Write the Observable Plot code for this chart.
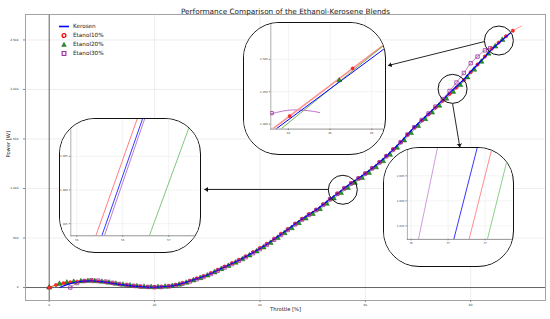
<!DOCTYPE html>
<html><head><meta charset="utf-8">
<script src="https://cdn.jsdelivr.net/npm/d3@7"></script>
<script src="https://cdn.jsdelivr.net/npm/@observablehq/plot@0.6"></script>
<style>
body{margin:0;background:#fff;font-family:"DejaVu Sans",sans-serif;}
#wrap{position:relative;width:550px;height:319px;overflow:hidden;background:#fff;}
#wrap>svg{display:block;}
.inset{position:absolute;box-sizing:border-box;border:1.4px solid #111;border-radius:36px;overflow:hidden;background:#fff;}
.inset svg{display:block;}
.leg{position:absolute;left:58px;height:9px;display:flex;align-items:center;font-size:5.7px;color:#222;white-space:nowrap;}
.leg svg{width:12px;height:9px;margin-right:3px;}
</style></head><body><div id="wrap"></div><script>
// ---- main series (Throttle [%] -> Power [W]) ----
const keroX = [2.0,3.0,4.0,5.3,6.7,8.0,9.3,10.7,12.0,13.3,14.7,16.0,17.3,18.7,20.0,21.3,22.7,24.0,25.3,26.7,28.0,29.3,30.7,32.0,33.3,34.7,36.0,37.3,38.7,40.0,41.3,42.7,44.0,45.3,46.7,48.0,49.3,50.7,52.0,53.3,54.7,56.0,57.3,58.7,60.0,61.3,62.7,64.0,65.3,66.7,68.0,69.3,70.7,72.0,73.3,74.7,76.0,77.3,78.7,80.0,81.3,82.7,84.0,85.3,86.7,87.5];
const keroY = [0,22,40,56,65,67,61,54,43,32,24,15,9,5,3,6,13,25,42,66,89,112,142,175,208,242,275,312,353,395,437,489,538,587,643,691,738,785,838,893,948,1002,1052,1103,1152,1205,1265,1328,1395,1468,1545,1618,1690,1755,1822,1893,1965,2030,2102,2180,2252,2330,2405,2467,2532,2568];

const e10X = [0,1.3,2.7,4.0,5.3,6.7,8.0,9.3,10.7,12.0,13.3,14.7,16.0,17.3,18.7,20.0,21.3,22.7,24.0,25.3,26.7,28.0,29.3,30.7,32.0,33.3,34.7,36.0,37.3,38.7,40.0,41.3,42.7,44.0,45.3,46.7,48.0,49.3,50.7,52.0,53.3,54.7,56.0,57.3,58.7,60.0,61.3,62.7,64.0,65.3,66.7,68.0,69.3,70.7,72.0,73.3,74.7,76.0,77.3,78.7,80.0,81.3,82.7,84.0,85.3,86.7,88.0];
const e10Y = [0,26,44,53,60,66,68,62,55,44,34,25,17,11,7,6,9,17,29,46,70,93,117,147,180,213,247,280,317,358,400,442,494,543,592,647,695,742,789,842,897,951,1005,1055,1106,1155,1208,1268,1330,1396,1468,1544,1616,1686,1749,1816,1885,1955,2020,2094,2175,2252,2333,2411,2473,2537,2593];
const e10TailX = [88.0,89.6];
const e10TailY = [2593,2640];

const e20X = [0,1.95,3.35,4.65,6.0,7.35,8.65,10.0,11.35,12.65,14.0,15.35,16.65,18.0,19.35,20.65,22.0,23.35,24.65,26.0,27.35,28.65,30.0,31.35,32.65,34.0,35.35,36.65,38.0,39.35,40.65,42.0,43.35,44.65,46.0,47.35,48.65,50.0,51.35,52.65,54.0,55.35,56.65,58.0,59.35,60.65,62.0,63.35,64.65,66.0,67.35,68.65,70.0,71.35,72.65,74.0,75.35,76.65,78.0,79.35,80.65,82.0,83.35,84.65,86.0];
const e20Y = [0,37,49,56,62,66,64,58,49,38,28,20,12,7,4,4,8,15,29,48,72,95,121,153,186,218,251,285,324,364,405,451,501,549,599,650,697,743,792,846,900,954,1006,1057,1107,1158,1214,1276,1341,1411,1485,1560,1632,1701,1767,1836,1907,1976,2045,2122,2200,2280,2362,2434,2500];

const e30X = [4.0,5.3,6.7,8.0,9.3,10.7,12.0,13.3,14.7,16.0,17.3,18.7,20.0,21.3,22.7,24.0,25.3,26.7,28.0,29.3,30.7,32.0,33.3,34.7,36.0,37.3,38.7,40.0,41.3,42.7,44.0,45.3,46.7,48.0,49.3,50.7,52.0,53.3,54.7,56.0,57.3,58.7,60.0,61.3,62.7,64.0,65.3,66.7,68.0,69.3,70.7,72.0,73.3,74.7,76.0,77.3,78.7,80.0,81.3,82.7,83.7];
const e30Y = [0,45,66,74,70,60,48,36,26,17,10,6,3,5,11,22,38,60,83,106,136,169,202,236,269,306,346,388,430,482,531,581,637,686,733,781,834,890,946,1000,1050,1101,1150,1203,1263,1326,1393,1467,1545,1619,1692,1758,1827,1903,1985,2070,2167,2265,2332,2395,2417];

const xTicks = [0,20,40,60,80];
const yTicks = [0,500,1000,1500,2000,2500];

// zoom annotations (data coordinates)
const zoomCx = [85.35,76.56,55.73];
const zoomCy = [2494,2006,987];
const arrowX1 = [82.63,76.56,53.02];
const arrowY1 = [2484,1858,990];
const arrowX2 = [64.35,77.94,29.48];
const arrowY2 = [2242,1417,990];

// ---- inset 1 (around throttle 56 %) ----
const in1XTicks = [55.5,56.0,56.5];
const in1YTicks = [995,1000,1005];
const in1RedX = [55.707,56.159], in1RedY = [993.2,1010.65];
const in1BlueX = [55.772,56.217], in1BlueY = [993.2,1010.65];
const in1PurX = [55.80,56.24], in1PurY = [993.2,1010.65];
const in1GrnX = [56.289,56.758], in1GrnY = [993.2,1010.7];

// ---- inset 2 (around throttle 85 %) ----
const in2XTicks = [84,85,86];
const in2YTicks = [2400,2450,2500];
const in2BlueX = [83.5,86.4], in2BlueY = [2382.9,2521.2];
const in2RedX = [83.5,86.4], in2RedY = [2386.7,2527.9];
const in2GrnX = [83.5,86.4], in2GrnY = [2375.8,2527.5];
const in2PurX = [83.4,83.58,83.85,84.1,84.45,84.75], in2PurY = [2414,2416,2420,2422,2421,2418];
const in2RedPtX = [84.03,85.54], in2RedPtY = [2412.5,2486];
const in2GrnPtX = [85.22], in2GrnPtY = [2467.6];
const in2PurPtX = [83.6], in2PurPtY = [2417];

// ---- inset 3 (around throttle 76.5 %) ----
const in3XTicks = [76.0,76.5,77.0];
const in3YTicks = [1995,2000,2005];
const in3PurX = [76.099,76.358], in3PurY = [1992.3,2010.7];
const in3BlueX = [76.577,76.895], in3BlueY = [1992.3,2010.7];
const in3RedX = [76.784,77.096], in3RedY = [1992.3,2010.7];
const in3GrnX = [77.031,77.341], in3GrnY = [1992.3,2010.7];

const seriesNames = ["Kerosen","Etanol10%","Etanol20%","Etanol30%"];
const C = {blue:"#0000ff", red:"#ff0000", green:"#108a10", purple:"#9a2ea0"};

const pts = (X,Y) => X.map((x,i)=>({x, y:Y[i]}));
const kero = pts(keroX,keroY), e10 = pts(e10X,e10Y), e10t = pts(e10TailX,e10TailY), e20 = pts(e20X,e20Y), e30 = pts(e30X,e30Y);
const circles = pts(zoomCx,zoomCy);
const arrows = arrowX1.map((x,i)=>({x1:x,y1:arrowY1[i],x2:arrowX2[i],y2:arrowY2[i]}));

const font = "DejaVu Sans, sans-serif";
const main = Plot.plot({
  width:550, height:319, marginLeft:25, marginRight:5, marginTop:14, marginBottom:19,
  style:{fontFamily:font, background:"white", color:"#333"},
  x:{domain:[-4.5,94.2]}, y:{domain:[-131,2757]},
  marks:[
    Plot.gridX(xTicks,{stroke:"#e3e3e3", strokeOpacity:1, strokeWidth:0.6}),
    Plot.gridY(yTicks,{stroke:"#e3e3e3", strokeOpacity:1, strokeWidth:0.6}),
    Plot.ruleX([0],{stroke:"#555", strokeWidth:0.9}),
    Plot.ruleY([0],{stroke:"#555", strokeWidth:0.9}),
    Plot.frame({stroke:"#9a9a9a", strokeWidth:0.9}),
    Plot.axisX(xTicks,{fontSize:2.9, tickSize:2, tickPadding:1.5, label:null, stroke:"#888"}),
    Plot.axisY(yTicks,{fontSize:2.9, tickSize:2, tickPadding:5, label:null, stroke:"#888"}),
    Plot.line(e20,{x:"x",y:"y",stroke:C.green,strokeOpacity:0.55,strokeWidth:1,curve:"monotone-x"}),
    Plot.line(e10,{x:"x",y:"y",stroke:C.red,strokeOpacity:0.5,strokeWidth:1,curve:"monotone-x"}),
    Plot.line(e10t,{x:"x",y:"y",stroke:C.red,strokeOpacity:0.4,strokeWidth:1}),
    Plot.line(e30,{x:"x",y:"y",stroke:C.purple,strokeOpacity:0.6,strokeWidth:1,curve:"monotone-x"}),
    Plot.dot(e20,{x:"x",y:"y",symbol:"triangle",r:2,fill:"#1f9a1f",stroke:"#0b3d0b",strokeWidth:0.4}),
    Plot.dot(e10,{x:"x",y:"y",r:1.7,fill:"#ff2a2a",stroke:"#e00000",strokeWidth:0.4}),
    Plot.line(kero,{x:"x",y:"y",stroke:C.blue,strokeWidth:1.2,curve:"monotone-x"}),
    Plot.dot(e30,{x:"x",y:"y",symbol:"square",r:1.9,fill:"none",stroke:C.purple,strokeWidth:0.8}),
    Plot.dot(circles,{x:"x",y:"y",r:14.5,fill:"none",stroke:"#111",strokeWidth:1}),
    Plot.link(arrows,{x1:"x1",y1:"y1",x2:"x2",y2:"y2",stroke:"#111",strokeWidth:0.9,markerEnd:"arrow"}),
    Plot.text(["Performance Comparison of the Ethanol-Kerosene Blends"],{frameAnchor:"top",dy:-6,fontSize:7.3,fill:"#222"}),
    Plot.text(["Throttle [%]"],{frameAnchor:"bottom",dy:10,fontSize:5.2,fill:"#222"}),
    Plot.text(["Power [W]"],{frameAnchor:"left",dx:-17,rotate:-90,fontSize:5.2,fill:"#222"})
  ]
});
// filled arrow heads
d3.select(main).selectAll("marker").attr("markerUnits","userSpaceOnUse").attr("markerWidth",7).attr("markerHeight",7)
  .selectAll("path").attr("d","M-5,-3.2L0,0L-5,3.2Z").attr("fill","#111").attr("stroke","#111").attr("stroke-width",0.5);
const wrap = document.getElementById("wrap");
wrap.appendChild(main);

function inset(box, m, xd, yd, xt, yt, marks){
  const div = document.createElement("div");
  div.className = "inset";
  div.style.left = box[0]+"px"; div.style.top = box[1]+"px";
  div.style.width = box[2]+"px"; div.style.height = box[3]+"px";
  const p = Plot.plot({
    width: box[2]-2.8, height: box[3]-2.8,
    marginLeft:m[0], marginBottom:m[1], marginTop:0, marginRight:0,
    style:{fontFamily:font, background:"white", color:"#444", overflow:"hidden"},
    x:{domain:xd}, y:{domain:yd},
    marks:[
      Plot.gridX(xt,{stroke:"#e6e6e6",strokeOpacity:1,strokeWidth:0.5}),
      Plot.gridY(yt,{stroke:"#e6e6e6",strokeOpacity:1,strokeWidth:0.5}),
      Plot.axisX(xt,{fontSize:2.7,tickSize:1.5,tickPadding:1.5,label:null,stroke:"#888"}),
      Plot.axisY(yt,{fontSize:2.7,tickSize:1.5,tickPadding:1.5,label:null,stroke:"#888"}),
      Plot.frame({anchor:"left",stroke:"#999",strokeWidth:0.8}),
      Plot.frame({anchor:"bottom",stroke:"#777",strokeWidth:0.8}),
      ...marks
    ]
  });
  div.appendChild(p);
  wrap.appendChild(div);
}
const ln = (X,Y,stroke,w,op) => Plot.line(pts(X,Y),{x:"x",y:"y",stroke,strokeWidth:w,strokeOpacity:op,clip:true,curve:"monotone-x"});

inset([59,118,142,135],[10.3,15.9],[55.435,56.836],[993.2,1010.47],in1XTicks,in1YTicks,[
  ln(in1RedX,in1RedY,"#ff7070",0.9,1),
  ln(in1PurX,in1PurY,"#b070c8",0.9,1),
  ln(in1BlueX,in1BlueY,"#2020ff",0.9,1),
  ln(in1GrnX,in1GrnY,"#70c070",0.9,1)
]);
inset([243,22,143,133],[26.3,24.6],[83.578,86.309],[2392.4,2555.4],in2XTicks,in2YTicks,[
  ln(in2PurX,in2PurY,"#c070c8",1,1),
  ln(in2RedX,in2RedY,"#ff9090",1.6,1),
  ln(in2GrnX,in2GrnY,"#6aaa4a",0.9,1),
  ln(in2BlueX,in2BlueY,"#0000ff",1,1),
  Plot.dot(pts(in2RedPtX,in2RedPtY),{x:"x",y:"y",r:1.6,fill:"#ff2a2a",stroke:"#e00000",strokeWidth:0.4}),
  Plot.dot(pts(in2GrnPtX,in2GrnPtY),{x:"x",y:"y",symbol:"triangle",r:1.8,fill:"#1f9a1f",stroke:"#0b3d0b",strokeWidth:0.4}),
  Plot.dot(pts(in2PurPtX,in2PurPtY),{x:"x",y:"y",symbol:"square",r:1.8,fill:"none",stroke:C.purple,strokeWidth:0.8,clip:true})
]);
inset([383,147,131,120],[22.9,26.3],[75.95,77.373],[1992.3,2010.46],in3XTicks,in3YTicks,[
  ln(in3PurX,in3PurY,"#c890d8",0.9,1),
  ln(in3BlueX,in3BlueY,"#2020ff",0.9,1),
  ln(in3RedX,in3RedY,"#ff8080",0.9,1),
  ln(in3GrnX,in3GrnY,"#80c880",0.9,1)
]);

// legend
const legSym = [
  '<line x1="1" y1="4.5" x2="11" y2="4.5" stroke="#0000ff" stroke-width="1.6"/>',
  '<circle cx="6" cy="4.5" r="1.9" fill="none" stroke="#ff0000" stroke-width="1.3"/>',
  '<path d="M6,2.3 L8.3,6.4 L3.7,6.4 Z" fill="#1f9a1f" stroke="#0b3d0b" stroke-width="0.4"/>',
  '<rect x="4.1" y="2.6" width="3.8" height="3.8" fill="none" stroke="#9a2ea0" stroke-width="1.1"/>'
];
const legTop = [21.8,30.8,39.8,48.8];
seriesNames.forEach((n,i)=>{
  const d = document.createElement("div");
  d.className = "leg";
  d.style.top = legTop[i]+"px";
  d.innerHTML = '<svg viewBox="0 0 12 9">'+legSym[i]+'</svg><span>'+n+'</span>';
  wrap.appendChild(d);
});
</script></body></html>
